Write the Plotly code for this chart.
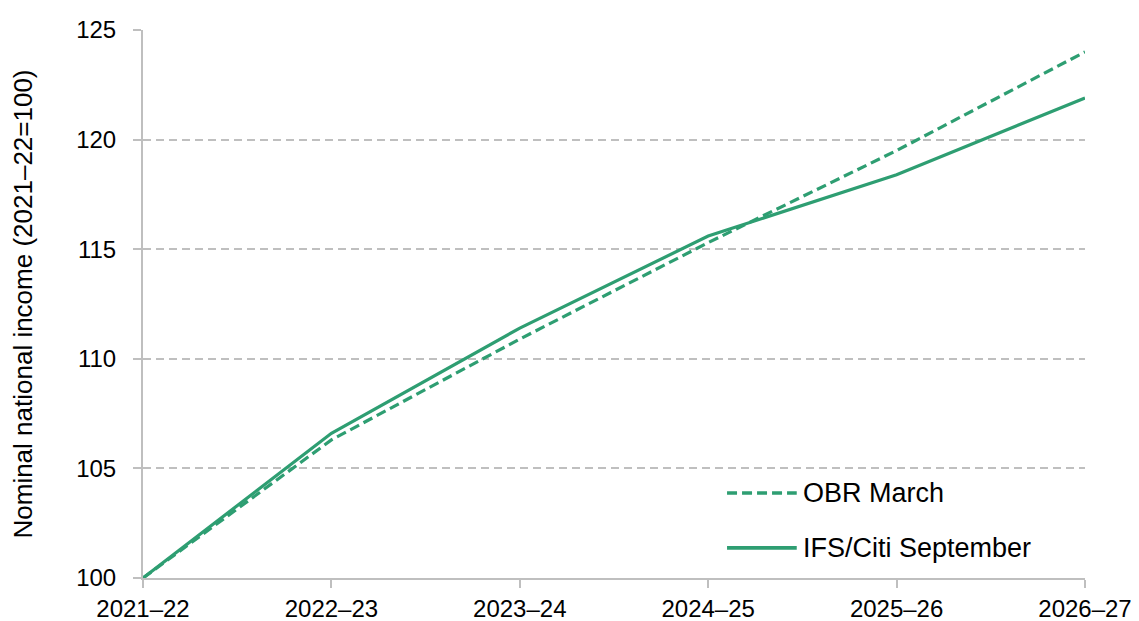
import plotly.graph_objects as go

years = ["2021\u201322", "2022\u201323", "2023\u201324", "2024\u201325", "2025\u201326", "2026\u201327"]
obr_march = [100, 106.3, 110.9, 115.3, 119.5, 124.0]
ifs_citi_sept = [100, 106.6, 111.4, 115.6, 118.4, 121.9]
y_ticks = [100, 105, 110, 115, 120, 125]
series_names = ["OBR March", "IFS/Citi September"]
series_dash = ["10px,5px", "solid"]

green = "#2e9e72"
grid = "#bfbfbf"
x_pos = list(range(len(years)))
fnt = "Liberation Sans, Arial, sans-serif"

fig = go.Figure()
for name, vals, dash in zip(series_names, [obr_march, ifs_citi_sept], series_dash):
    fig.add_trace(go.Scatter(
        x=x_pos, y=vals, mode="lines", name=name,
        line=dict(color=green, width=3.2, dash=dash),
    ))

# legend drawn by hand so the line samples are long like the original
legend_y = [0.155, 0.055]
for name, dash, ly in zip(series_names, series_dash, legend_y):
    fig.add_shape(type="line", xref="paper", yref="paper",
                  x0=0.62, x1=0.694, y0=ly, y1=ly,
                  line=dict(color=green, width=3.6, dash=dash))
    fig.add_annotation(text=name, xref="paper", yref="paper", x=0.698, y=ly,
                       xanchor="left", yanchor="middle", showarrow=False,
                       font=dict(family=fnt, size=27, color="black"))

# page body adds 8px, so the figure is 8px smaller than the window
fig.update_layout(
    width=1131, height=613,
    margin=dict(l=135, r=54, t=22, b=43),
    plot_bgcolor="white", paper_bgcolor="white",
    font=dict(family=fnt, size=24, color="black"),
    showlegend=False,
)
fig.update_xaxes(
    range=[0, len(years) - 1], tickvals=x_pos, ticktext=years,
    tickfont=dict(family=fnt, size=24, color="black"),
    showgrid=False, showline=True, linecolor=grid, linewidth=2,
    ticks="outside", tickcolor=grid, ticklen=8, tickwidth=2,
    zeroline=False, automargin=False,
)
fig.update_yaxes(
    range=[100, 125], tickvals=y_ticks,
    tickfont=dict(family=fnt, size=24, color="black"),
    showgrid=True, gridcolor=grid, griddash="8px,5px", gridwidth=1.5,
    showline=True, linecolor=grid, linewidth=2,
    ticks="outside", tickcolor=grid, ticklen=8, tickwidth=2,
    ticklabelstandoff=12,
    zeroline=False, automargin=False,
    title=dict(text="Nominal national income (2021\u201322=100)", standoff=38,
               font=dict(family=fnt, size=26, color="black")),
)

fig.write_html("out.html")
